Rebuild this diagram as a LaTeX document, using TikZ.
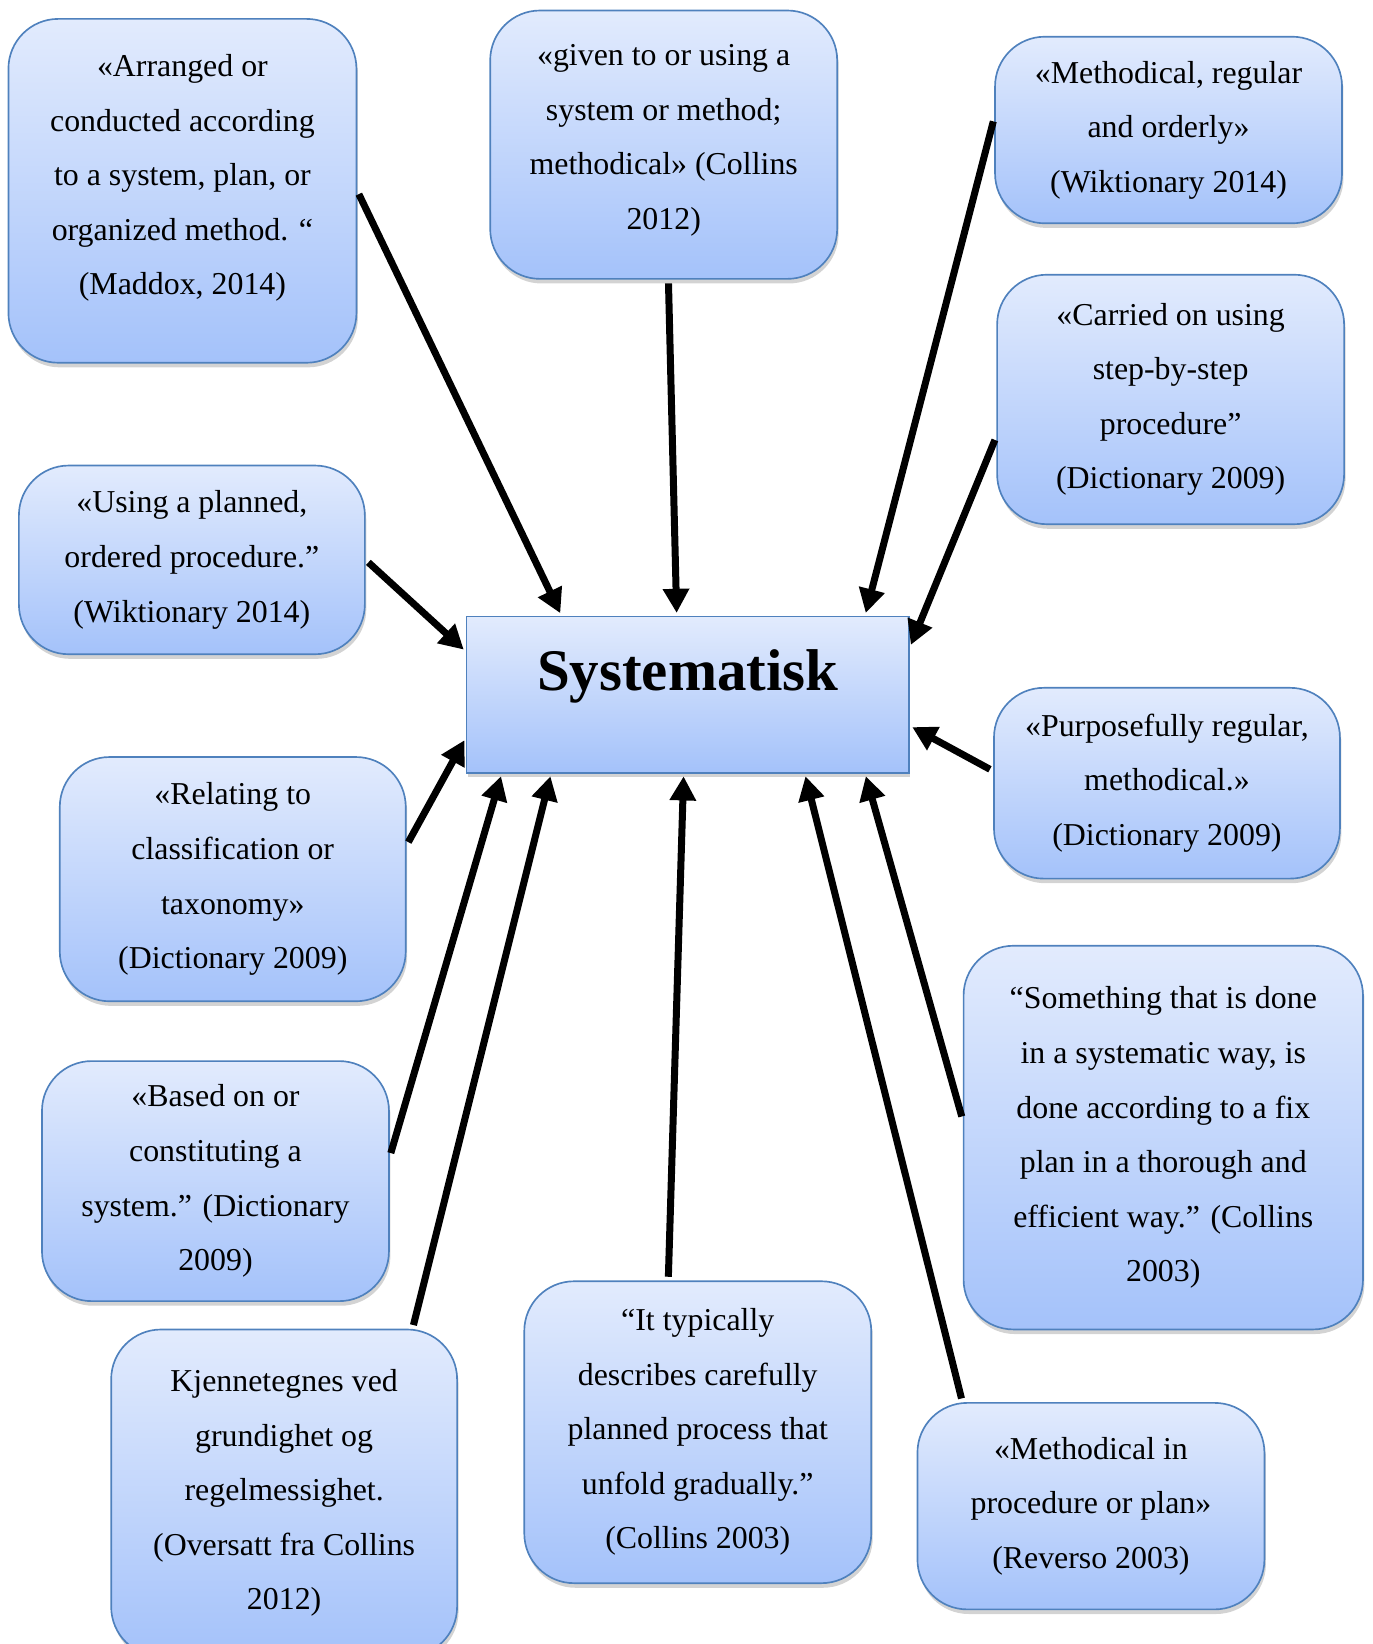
\documentclass[tikz,border=0pt]{standalone}
\usepackage{fontspec}
\setmainfont{Liberation Serif}
\usetikzlibrary{arrows.meta,shadows}
\definecolor{boxtop}{RGB}{226,235,253}
\definecolor{boxbot}{RGB}{164,194,250}
\definecolor{boxline}{RGB}{79,129,189}
\begin{document}
\begin{tikzpicture}[x=0.02cm, y=-0.02cm,
	defbox/.style={draw=boxline, line width=0.9pt, rounded corners=0.95cm, top color=boxtop, bottom color=boxbot,
		align=center, inner sep=0pt, font=\fontsize{17.3}{29.6}\selectfont,
		drop shadow={shadow xshift=0.8pt, shadow yshift=-2.5pt, opacity=0.35}},
	arr/.style={line width=3.8pt, shorten <=2pt, shorten >=1.5pt, -{Triangle[length=0.46cm, width=0.48cm]}}]
	\path[use as bounding box] (0,0) rectangle (1309,1568);
	\clip (0,0) rectangle (1309,1568);
	\node[defbox, rounded corners=0pt, minimum width=8.44cm, minimum height=2.98cm, text depth=27pt,
		font=\fontsize{32}{38}\selectfont\bfseries] (syst) at (656,662.5) {Systematisk};
	\node[defbox, minimum width=6.64cm, minimum height=6.56cm, text depth=17.5pt] (arranged) at (174,182)
		{«Arranged or\\conducted according\\to a system, plan, or\\organized method. “\\(Maddox, 2014)};
	\node[defbox, minimum width=6.62cm, minimum height=5.12cm, text depth=8.5pt] (given) at (633,138)
		{«given to or using a\\system or method;\\methodical» (Collins\\2012)};
	\node[defbox, minimum width=6.62cm, minimum height=3.56cm] (orderly) at (1114.5,124)
		{«Methodical, regular\\and orderly»\\(Wiktionary 2014)};
	\node[defbox, minimum width=6.62cm, minimum height=4.76cm] (stepwise) at (1116.5,381)
		{«Carried on using\\step-by-step\\procedure”\\(Dictionary 2009)};
	\node[defbox, minimum width=6.6cm, minimum height=3.6cm] (planned) at (183,534)
		{«Using a planned,\\ordered procedure.”\\(Wiktionary 2014)};
	\node[defbox, minimum width=6.6cm, minimum height=3.64cm] (purpose) at (1113,747)
		{«Purposefully regular,\\methodical.»\\(Dictionary 2009)};
	\node[defbox, minimum width=6.6cm, minimum height=4.66cm] (taxonomy) at (222,838.5)
		{«Relating to\\classification or\\taxonomy»\\(Dictionary 2009)};
	\node[defbox, minimum width=7.62cm, minimum height=7.32cm] (thorough) at (1109.5,1085)
		{“Something that is done\\in a systematic way, is\\done according to a fix\\plan in a thorough and\\efficient way.” (Collins\\2003)};
	\node[defbox, minimum width=6.62cm, minimum height=4.58cm] (based) at (205.5,1126.5)
		{«Based on or\\constituting a\\system.” (Dictionary\\2009)};
	\node[defbox, minimum width=6.6cm, minimum height=6.24cm] (kjenne) at (271,1424)
		{Kjennetegnes ved\\grundighet og\\regelmessighet.\\(Oversatt fra Collins\\2012)};
	\node[defbox, minimum width=6.62cm, minimum height=5.76cm] (gradual) at (665.5,1366)
		{“It typically\\describes carefully\\planned process that\\unfold gradually.”\\(Collins 2003)};
	\node[defbox, minimum width=6.62cm, minimum height=3.94cm] (reverso) at (1040.5,1436.5)
		{«Methodical in\\procedure or plan»\\(Reverso 2003)};
	\draw[arr] (arranged.east) -- (syst.148);
	\draw[arr] (given.272) -- (syst.98);
	\draw[arr] (orderly.176) -- (syst.24);
	\draw[arr] (stepwise.192) -- (syst.12);
	\draw[arr] (planned.east) -- (syst.169);
	\draw[arr] (purpose.176) -- (syst.352);
	\draw[arr] (taxonomy.11) -- (syst.191);
	\draw[arr] (based.8) -- (syst.203);
	\draw[arr] (kjenne.52) -- (syst.210);
	\draw[arr] (gradual.101) -- (syst.267);
	\draw[arr] (reverso.141) -- (syst.326);
	\draw[arr] (thorough.175) -- (syst.336);
\end{tikzpicture}
\end{document}
